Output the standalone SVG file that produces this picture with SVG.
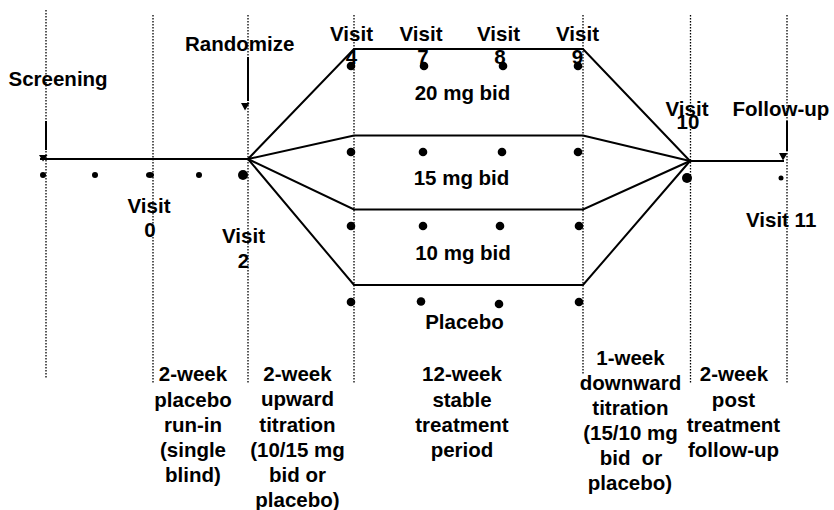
<svg xmlns="http://www.w3.org/2000/svg" width="834" height="510" viewBox="0 0 834 510">
<style>
  .grid { stroke:#000; stroke-width:1.3; stroke-dasharray:1.4 1.6; fill:none; }
  .ln { stroke:#000; stroke-width:2; fill:none; stroke-linejoin:miter; }
  .t { font-family:"Liberation Sans", Arial, sans-serif; font-weight:bold; font-size:20.5px; fill:#000; }
  .c { text-anchor:middle; }
  .dot { fill:#000; }
</style>
<rect width="834" height="510" fill="#fff"/>
<g id="grid-lines">
  <line class="grid" x1="46" y1="10" x2="46" y2="379"/>
  <line class="grid" x1="153" y1="15" x2="153" y2="383"/>
  <line class="grid" x1="248" y1="15" x2="248" y2="383"/>
  <line class="grid" x1="354" y1="15" x2="354" y2="383"/>
  <line class="grid" x1="583" y1="15" x2="583" y2="375"/>
  <line class="grid" x1="690.5" y1="15" x2="690.5" y2="383"/>
  <line class="grid" x1="787" y1="15" x2="787" y2="383"/>
</g>
<g id="connectors">
  <polyline class="ln" points="40,159 248,159"/>
  <polyline class="ln" points="248,159 354,49 583,49 690,161"/>
  <polyline class="ln" points="248,159 354,135.5 583,135.5 690,161"/>
  <polyline class="ln" points="248,159 354,209.5 583,209.5 690,161"/>
  <polyline class="ln" points="248,159 354,285 583,285 690,161"/>
  <polyline class="ln" points="690,161 784,161"/>
  <line class="ln" x1="46" y1="121" x2="46" y2="150"/>
  <polygon points="39,155 47.5,155 43,161.5" fill="#000"/>
  <line class="ln" x1="248" y1="57" x2="248" y2="101"/>
  <polygon points="241,103 249.5,103 245,110.5" fill="#000"/>
  <line class="ln" x1="787" y1="121" x2="787" y2="151"/>
  <polygon points="779,153 787.5,153 783,160.5" fill="#000"/>
</g>
<g id="visit-dots">
  <circle class="dot" cx="43" cy="175" r="3"/>
  <circle class="dot" cx="95" cy="175" r="3"/>
  <ellipse class="dot" cx="150" cy="175" rx="4" ry="3"/>
  <circle class="dot" cx="199" cy="175" r="3"/>
  <circle class="dot" cx="243" cy="175" r="5"/>
  <circle class="dot" cx="351" cy="66" r="4.3"/>
  <circle class="dot" cx="424" cy="66" r="4.3"/>
  <circle class="dot" cx="503" cy="66" r="4.3"/>
  <circle class="dot" cx="578" cy="66" r="4.3"/>
  <circle class="dot" cx="351" cy="152" r="4.3"/>
  <circle class="dot" cx="423" cy="152" r="4.3"/>
  <circle class="dot" cx="502" cy="152" r="4.3"/>
  <circle class="dot" cx="578" cy="152" r="4.3"/>
  <circle class="dot" cx="351" cy="226" r="4.3"/>
  <circle class="dot" cx="423" cy="226" r="4.3"/>
  <circle class="dot" cx="500" cy="226" r="4.3"/>
  <circle class="dot" cx="579" cy="226" r="4.3"/>
  <circle class="dot" cx="351" cy="302" r="4.3"/>
  <circle class="dot" cx="421" cy="301.5" r="4.3"/>
  <circle class="dot" cx="499" cy="304" r="4.3"/>
  <circle class="dot" cx="579" cy="302" r="4.3"/>
  <circle class="dot" cx="687" cy="178" r="5"/>
  <circle class="dot" cx="781" cy="178" r="2.5"/>
</g>
<g id="label-screening"><text class="t" x="8.5" y="86">Screening</text></g>
<g id="label-randomize"><text class="t" x="185" y="51">Randomize</text></g>
<g id="label-visit4"><text class="t c" x="351.5" y="41">Visit</text><text class="t c" x="351.5" y="64">4</text></g>
<g id="label-visit7"><text class="t c" x="421" y="41">Visit</text><text class="t c" x="423" y="64">7</text></g>
<g id="label-visit8"><text class="t c" x="498.5" y="41">Visit</text><text class="t c" x="500" y="64">8</text></g>
<g id="label-visit9"><text class="t c" x="577.5" y="41">Visit</text><text class="t c" x="577.5" y="64">9</text></g>
<g id="label-20mg"><text class="t c" x="462.5" y="100">20 mg bid</text></g>
<g id="label-15mg"><text class="t c" x="461.5" y="185">15 mg bid</text></g>
<g id="label-10mg"><text class="t c" x="463" y="260">10 mg bid</text></g>
<g id="label-placebo"><text class="t c" x="464.5" y="329">Placebo</text></g>
<g id="label-visit10"><text class="t c" x="687" y="116">Visit</text><text class="t c" x="688" y="129">10</text></g>
<g id="label-followup"><text class="t" x="732.5" y="116">Follow-up</text></g>
<g id="label-visit11"><text class="t" x="746" y="227">Visit 11</text></g>
<g id="label-visit0"><text class="t c" x="149" y="213">Visit</text><text class="t c" x="150" y="237">0</text></g>
<g id="label-visit2"><text class="t c" x="243.5" y="243">Visit</text><text class="t c" x="243.5" y="268">2</text></g>
<g id="phase-runin">
  <text class="t c" x="193" y="381">2-week</text>
  <text class="t c" x="193" y="406.5">placebo</text>
  <text class="t c" x="193" y="431.5">run-in</text>
  <text class="t c" x="193" y="457">(single</text>
  <text class="t c" x="193" y="482">blind)</text>
</g>
<g id="phase-upward">
  <text class="t c" x="297.5" y="381">2-week</text>
  <text class="t c" x="297.5" y="406">upward</text>
  <text class="t c" x="297.5" y="431.5">titration</text>
  <text class="t c" x="297.5" y="456.5">(10/15 mg</text>
  <text class="t c" x="297.5" y="482">bid or</text>
  <text class="t c" x="297.5" y="507">placebo)</text>
</g>
<g id="phase-stable">
  <text class="t c" x="462" y="380.5">12-week</text>
  <text class="t c" x="462" y="406.5">stable</text>
  <text class="t c" x="462" y="431.5">treatment</text>
  <text class="t c" x="462" y="456.5">period</text>
</g>
<g id="phase-downward">
  <text class="t c" x="630.5" y="364.5">1-week</text>
  <text class="t c" x="630.5" y="389.5">downward</text>
  <text class="t c" x="630.5" y="415">titration</text>
  <text class="t c" x="630.5" y="440">(15/10 mg</text>
  <text class="t c" x="631" y="465" style="white-space:pre">bid  or</text>
  <text class="t c" x="630" y="490">placebo)</text>
</g>
<g id="phase-followup">
  <text class="t c" x="734" y="381">2-week</text>
  <text class="t c" x="733.5" y="406.5">post</text>
  <text class="t c" x="733.5" y="431.5">treatment</text>
  <text class="t c" x="733.5" y="457">follow-up</text>
</g>
</svg>
